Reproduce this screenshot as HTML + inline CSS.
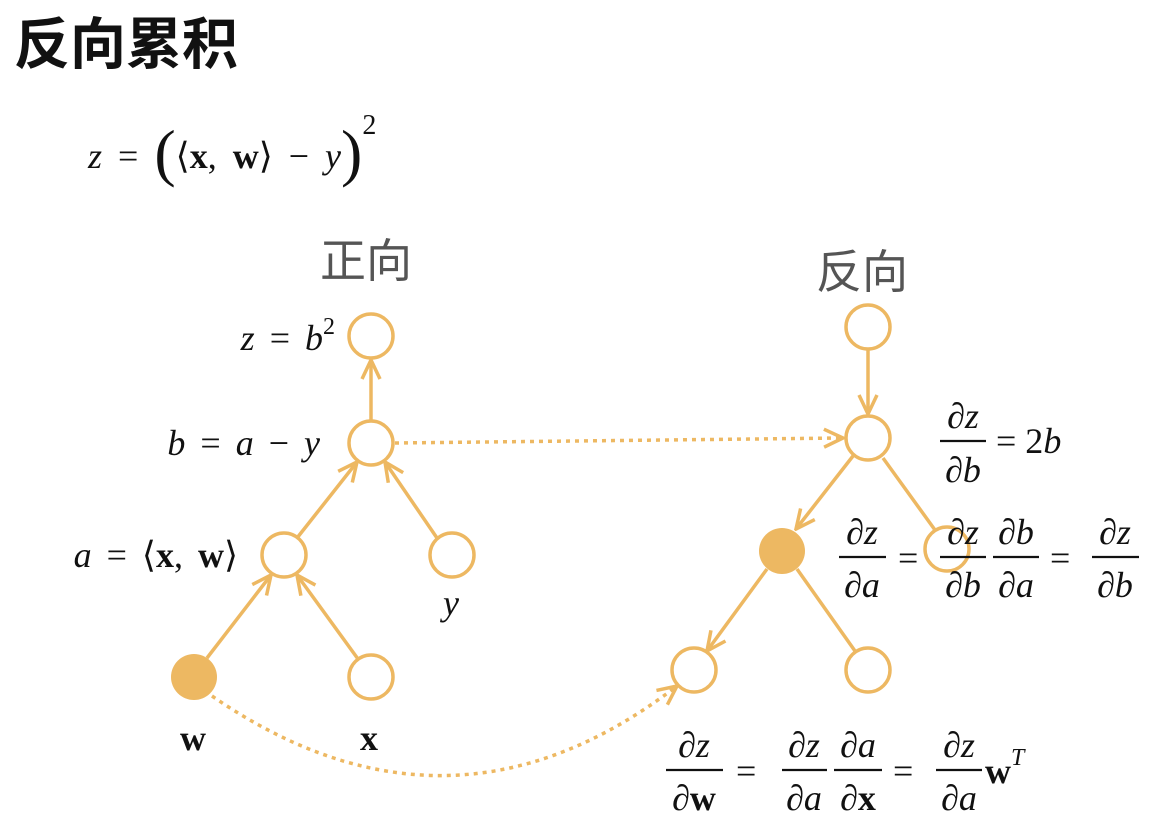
<!DOCTYPE html>
<html><head><meta charset="utf-8"><style>
html,body{margin:0;padding:0;background:#fff;}
svg{display:block;}
.m{font-family:"Liberation Serif",serif;font-size:36px;fill:#111;}
.i{font-style:italic;}
.b{font-weight:bold;}
</style></head><body>
<svg width="1168" height="824" viewBox="0 0 1168 824" xmlns="http://www.w3.org/2000/svg">
<defs>
<marker id="ah" viewBox="0 0 24 24" refX="22" refY="12" markerWidth="24" markerHeight="24" markerUnits="userSpaceOnUse" orient="auto">
<path d="M3,3 L22,12 L3,21" fill="none" stroke="#EDB862" stroke-width="3.5"/>
</marker>
</defs>
<text x="14" y="64" font-family="Liberation Sans,'Noto Sans CJK SC',sans-serif" font-size="56" font-weight="bold" fill="#111">反向累积</text>
<text x="88" y="168" class="m" font-size="42" word-spacing="7"><tspan class="i">z</tspan> = <tspan font-size="64" dy="6">(</tspan><tspan dy="-6">⟨</tspan><tspan class="b">x</tspan>, <tspan class="b">w</tspan>⟩ − <tspan class="i">y</tspan><tspan font-size="64" dy="6">)</tspan><tspan font-size="28" dy="-40">2</tspan></text>
<text x="320" y="277" font-family="'Noto Sans CJK SC',sans-serif" font-size="46" fill="#555">正向</text>
<text x="816" y="288" font-family="'Noto Sans CJK SC',sans-serif" font-size="46" fill="#555">反向</text>
<g stroke="#EDB862" stroke-width="3.5" fill="none">
<line x1="371" y1="421" x2="371" y2="360" marker-end="url(#ah)"/>
<line x1="297" y1="538" x2="357" y2="462" marker-end="url(#ah)"/>
<line x1="437" y1="538" x2="385" y2="462" marker-end="url(#ah)"/>
<line x1="207" y1="658" x2="271" y2="575" marker-end="url(#ah)"/>
<line x1="358" y1="659" x2="297" y2="575" marker-end="url(#ah)"/>
<line x1="395" y1="443" x2="843" y2="438" stroke-dasharray="4 5" marker-end="url(#ah)"/>
<path d="M212,696 Q450,860 677,686" stroke-dasharray="4 5" marker-end="url(#ah)"/>
<line x1="868" y1="350" x2="868" y2="414" marker-end="url(#ah)"/>
<line x1="853" y1="456" x2="796" y2="529" marker-end="url(#ah)"/>
<line x1="883" y1="458" x2="935" y2="530"/>
<line x1="767" y1="569" x2="707" y2="651" marker-end="url(#ah)"/>
<line x1="797" y1="569" x2="855" y2="651"/>
<g fill="#fff">
<circle cx="371" cy="336" r="22"/><circle cx="371" cy="443" r="22"/>
<circle cx="284" cy="555" r="22"/><circle cx="452" cy="555" r="22"/>
<circle cx="371" cy="677" r="22"/>
<circle cx="868" cy="327" r="22"/><circle cx="868" cy="438" r="22"/>
<circle cx="947" cy="549" r="22"/>
<circle cx="694" cy="670" r="22"/><circle cx="868" cy="670" r="22"/>
</g>
<circle cx="194" cy="677" r="23" fill="#EDB862" stroke="none"/>
<circle cx="782" cy="551" r="23" fill="#EDB862" stroke="none"/>
</g>
<text x="335" y="350" class="m" text-anchor="end" word-spacing="6"><tspan class="i">z</tspan> = <tspan class="i">b</tspan><tspan font-size="24" dy="-16">2</tspan></text>
<text x="320" y="455" class="m" text-anchor="end" word-spacing="6"><tspan class="i">b</tspan> = <tspan class="i">a</tspan> − <tspan class="i">y</tspan></text>
<text x="238" y="567" class="m" text-anchor="end" word-spacing="6"><tspan class="i">a</tspan> = ⟨<tspan class="b">x</tspan>, <tspan class="b">w</tspan>⟩</text>
<text x="443" y="615" class="m i">y</text>
<text x="180" y="750" class="m b">w</text>
<text x="360" y="750" class="m b">x</text>
<g class="m" text-anchor="middle" stroke="none">
<g class="i">
<text x="963" y="428">∂z</text><text x="963" y="482">∂b</text>
<text x="862" y="544">∂z</text><text x="862" y="597">∂a</text>
<text x="963" y="544">∂z</text><text x="963" y="597">∂b</text>
<text x="1016" y="544">∂b</text><text x="1016" y="597">∂a</text>
<text x="1115" y="544">∂z</text><text x="1115" y="597">∂b</text>
<text x="694" y="757">∂z</text>
<text x="804" y="757">∂z</text><text x="804" y="810">∂a</text>
<text x="858" y="757">∂a</text>
<text x="959" y="757">∂z</text><text x="959" y="810">∂a</text>
</g>
<text x="694" y="810"><tspan class="i">∂</tspan><tspan class="b">w</tspan></text>
<text x="858" y="810"><tspan class="i">∂</tspan><tspan class="b">x</tspan></text>
</g>
<g stroke="#111" stroke-width="2.2">
<line x1="940" y1="441" x2="986" y2="441"/>
<line x1="839" y1="557" x2="886" y2="557"/>
<line x1="940" y1="557" x2="986" y2="557"/>
<line x1="993" y1="557" x2="1039" y2="557"/>
<line x1="1092" y1="557" x2="1139" y2="557"/>
<line x1="666" y1="770" x2="723" y2="770"/>
<line x1="782" y1="770" x2="827" y2="770"/>
<line x1="834" y1="770" x2="882" y2="770"/>
<line x1="936" y1="770" x2="982" y2="770"/>
</g>
<text x="996" y="453" class="m" font-size="38">= 2<tspan class="i">b</tspan></text>
<text x="898" y="570" class="m" font-size="44">=</text>
<text x="1050" y="570" class="m" font-size="44">=</text>
<text x="736" y="783" class="m" font-size="44">=</text>
<text x="893" y="783" class="m" font-size="44">=</text>
<text x="985" y="783" class="m"><tspan class="b">w</tspan><tspan class="i" font-size="24" dy="-18">T</tspan></text>
</svg>
</body></html>
